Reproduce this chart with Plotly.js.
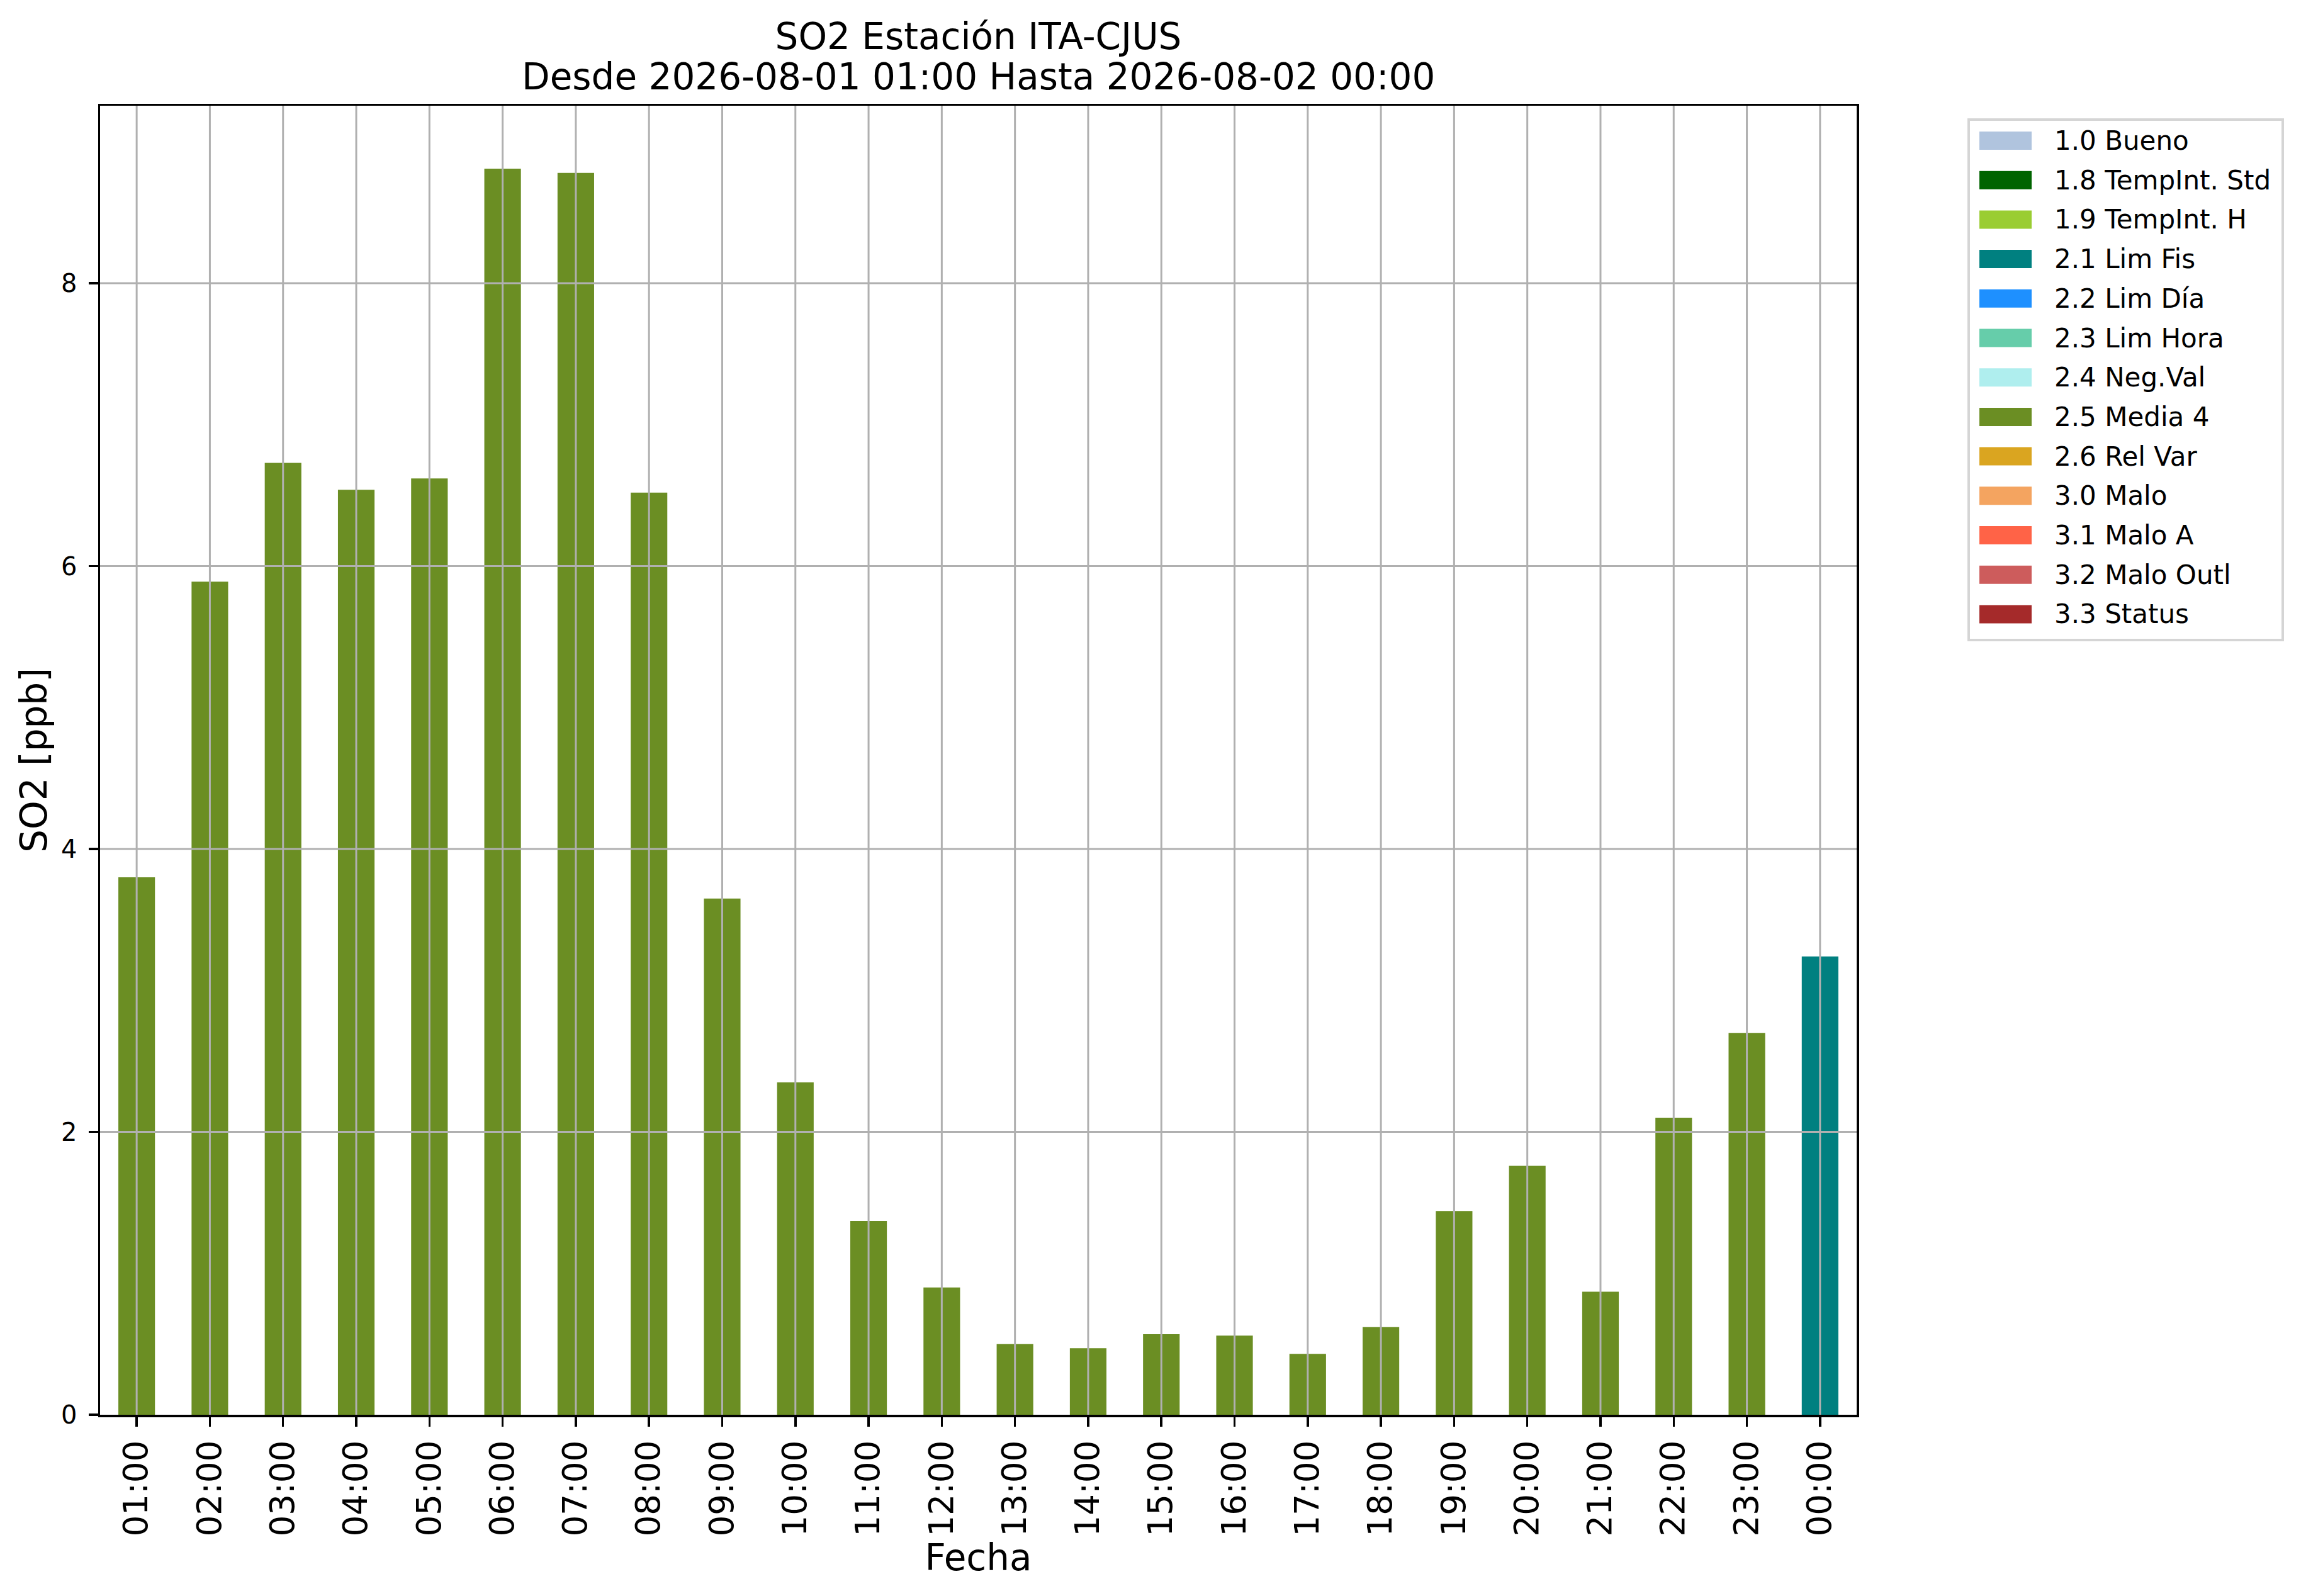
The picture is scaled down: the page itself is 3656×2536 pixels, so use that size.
<!DOCTYPE html>
<html>
<head>
<meta charset="utf-8">
<script src="https://cdn.plot.ly/plotly-3.0.1.min.js"></script>
<style>
  html, body { margin: 0; padding: 0; background: #fff; }
  #chart { width: 3656px; height: 2536px; }
</style>
</head>
<body>
<div id="chart"></div>
<script>
// hourly SO2 values, 2026-08-01 01:00 .. 2026-08-02 00:00
let hours = ['01:00', '02:00', '03:00', '04:00', '05:00', '06:00', '07:00', '08:00',
    '09:00', '10:00', '11:00', '12:00', '13:00', '14:00', '15:00', '16:00',
    '17:00', '18:00', '19:00', '20:00', '21:00', '22:00', '23:00', '00:00'];
let so2 = [3.80, 5.89, 6.73, 6.54, 6.62, 8.81, 8.78, 6.52,
    3.65, 2.35, 1.37, 0.90, 0.50, 0.47, 0.57, 0.56,
    0.43, 0.62, 1.44, 1.76, 0.87, 2.10, 2.70, 3.24];
let flags = ['2.5', '2.5', '2.5', '2.5', '2.5', '2.5', '2.5', '2.5',
    '2.5', '2.5', '2.5', '2.5', '2.5', '2.5', '2.5', '2.5',
    '2.5', '2.5', '2.5', '2.5', '2.5', '2.5', '2.5', '2.1'];

// quality flag categories
let flagCodes = ['1.0', '1.8', '1.9', '2.1', '2.2', '2.3', '2.4', '2.5', '2.6', '3.0', '3.1', '3.2', '3.3'];
let flagNames = ['1.0 Bueno', '1.8 TempInt. Std', '1.9 TempInt. H', '2.1 Lim Fis', '2.2 Lim Día',
    '2.3 Lim Hora', '2.4 Neg.Val', '2.5 Media 4', '2.6 Rel Var', '3.0 Malo', '3.1 Malo A',
    '3.2 Malo Outl', '3.3 Status'];
let flagColors = ['#b0c4de', '#006400', '#9acd32', '#008080', '#1e90ff', '#66cdaa', '#afeeee',
    '#6b8e23', '#daa520', '#f4a460', '#ff6347', '#cd5c5c', '#a52a2a'];

let yTicks = [0, 2, 4, 6, 8];

let titleLine1 = 'SO2 Estación ITA-CJUS';
let titleLine2 = 'Desde 2026-08-01 01:00 Hasta 2026-08-02 00:00';

const W = 3656, H = 2536;
const mL = 159, mR = 706, mT = 168, mB = 288;
const plotW = W - mL - mR, plotH = H - mT - mB;

function px(x) { return (x - mL) / plotW; }
function py(y) { return (H - mB - y) / plotH; }

let font = 'DejaVu Sans, Liberation Sans, sans-serif';
let gridColor = '#b0b0b0';

let barColors = flags.map(f => flagColors[flagCodes.indexOf(f)]);

let data = [{
    x: hours,
    y: so2,
    type: 'bar',
    width: 0.5,
    marker: { color: barColors, line: { width: 0 } },
    showlegend: false,
    hoverinfo: 'x+y'
}];

// grid drawn over the bars, as in the original
let shapes = [];
hours.forEach(h => {
    shapes.push({
        type: 'line', xref: 'x', yref: 'paper', x0: h, x1: h, y0: 0, y1: 1,
        line: { color: gridColor, width: 3 }, layer: 'above'
    });
});
yTicks.slice(1).forEach(v => {
    shapes.push({
        type: 'line', xref: 'paper', yref: 'y', x0: 0, x1: 1, y0: v, y1: v,
        line: { color: gridColor, width: 3 }, layer: 'above'
    });
});

// second title line (matplotlib line spacing is tighter than plotly's)
let annotations = [{
    xref: 'paper', yref: 'paper', x: 0.5, y: py(122),
    xanchor: 'center', yanchor: 'middle', showarrow: false,
    text: titleLine2, font: { family: font, size: 58, color: '#000' }
}];

// legend box
shapes.push({
    type: 'rect', xref: 'paper', yref: 'paper',
    x0: px(3128), x1: px(3627), y0: py(1017), y1: py(190),
    line: { color: '#d5d5d5', width: 4 }, fillcolor: 'rgba(255,255,255,0.8)'
});
flagNames.forEach((name, i) => {
    let cy = 223.5 + 62.7 * i;
    shapes.push({
        type: 'rect', xref: 'paper', yref: 'paper',
        x0: px(3145), x1: px(3228), y0: py(cy + 14.5), y1: py(cy - 14.5),
        line: { width: 0 }, fillcolor: flagColors[i]
    });
    annotations.push({
        xref: 'paper', yref: 'paper', x: px(3262), y: py(cy),
        xanchor: 'left', yanchor: 'middle', showarrow: false,
        text: name, font: { family: font, size: 42, color: '#000' }
    });
});

let layout = {
    width: W,
    height: H,
    paper_bgcolor: '#fff',
    plot_bgcolor: '#fff',
    font: { family: font, color: '#000' },
    margin: { l: mL, r: mR, t: mT, b: mB, pad: 0 },
    title: {
        text: titleLine1,
        font: { family: font, size: 58, color: '#000' },
        x: (mL + plotW / 2) / W,
        xanchor: 'center',
        yref: 'container',
        y: 1 - 58 / H,
        yanchor: 'middle'
    },
    xaxis: {
        type: 'category',
        range: [-0.5, hours.length - 0.5],
        tickangle: -90,
        tickfont: { family: font, size: 53, color: '#000' },
        ticks: 'outside', ticklen: 15, tickwidth: 3.5, tickcolor: '#000',
        ticklabelstandoff: 1,
        showgrid: false,
        showline: true, linecolor: '#000', linewidth: 3.5, mirror: true,
        zeroline: false,
        title: { text: 'Fecha', font: { family: font, size: 58, color: '#000' }, standoff: 0 }
    },
    yaxis: {
        range: [0, 9.255],
        tickvals: yTicks,
        ticktext: yTicks.map(String),
        tickfont: { family: font, size: 40, color: '#000' },
        ticks: 'outside', ticklen: 15, tickwidth: 3.5, tickcolor: '#000',
        ticklabelstandoff: 10,
        showgrid: false,
        showline: true, linecolor: '#000', linewidth: 3.5, mirror: true,
        zeroline: false,
        title: { text: 'SO2 [ppb]', font: { family: font, size: 58, color: '#000' }, standoff: 4 }
    },
    shapes: shapes,
    annotations: annotations,
    showlegend: false
};

Plotly.newPlot('chart', data, layout, { displayModeBar: false, staticPlot: true });
</script>
</body>
</html>
